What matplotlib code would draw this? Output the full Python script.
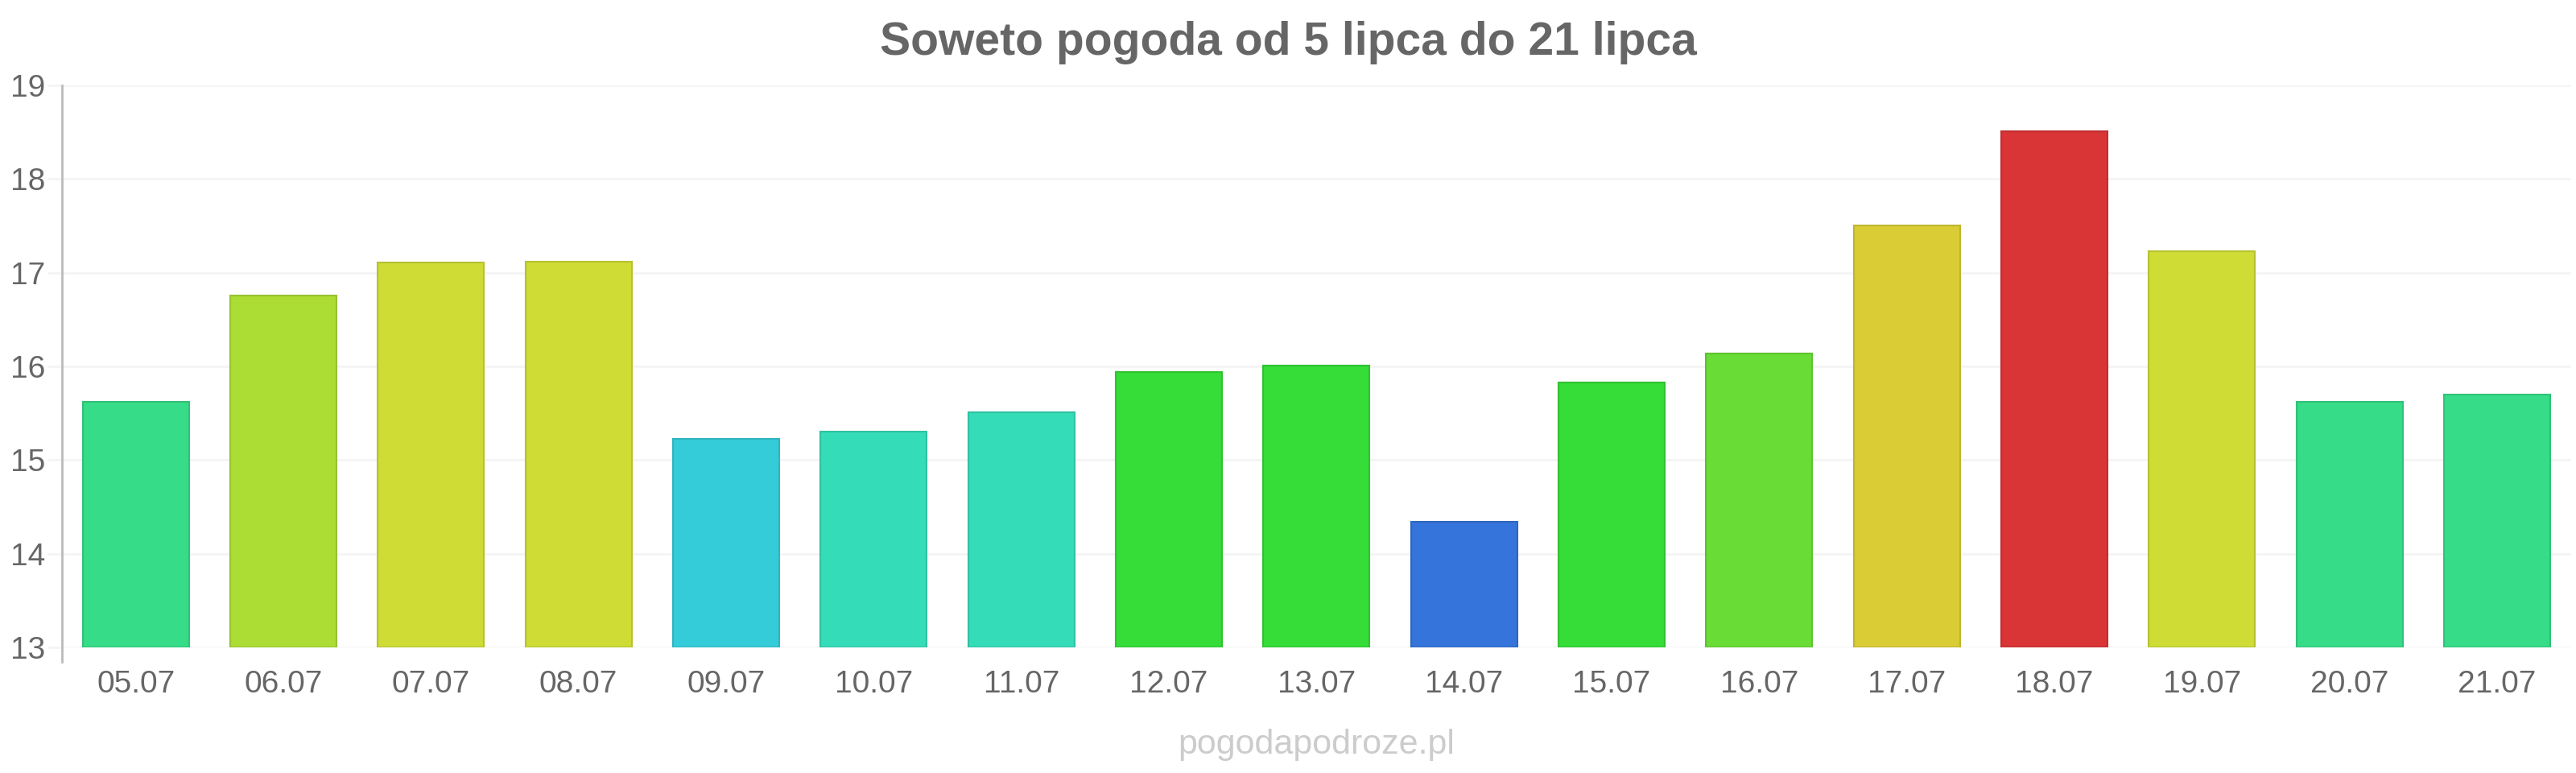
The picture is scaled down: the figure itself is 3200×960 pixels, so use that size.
import matplotlib.pyplot as plt
import matplotlib.colors as mcolors
import numpy as np

# -------------------------
# data
# -------------------------

days = ["05.07", "06.07", "07.07", "08.07", "09.07", "10.07", "11.07", "12.07", "13.07",
        "14.07", "15.07", "16.07", "17.07", "18.07", "19.07", "20.07", "21.07"]
temps = [15.62, 16.76, 17.11, 17.12, 15.23, 15.30, 15.51, 15.94, 16.01,
         14.34, 15.83, 16.14, 17.50, 18.51, 17.23, 15.62, 15.70]

bar_colors = ["#36dc88", "#acdd34", "#cfdc35", "#cfdc35", "#35ccda", "#35dcb8", "#35dcb8",
              "#36dc38", "#36dc38", "#3574da", "#36dc38", "#6adc36", "#dacc35", "#da3536",
              "#cfdc36", "#36dc88", "#36dc88"]

title = "Soweto pogoda od 5 lipca do 21 lipca"
watermark = "pogodapodroze.pl"

# -------------------------
# plot
# -------------------------

plt.rcParams["font.family"] = ["Liberation Sans", "DejaVu Sans"]

fig = plt.figure(figsize=(32, 9.6), dpi=100)
ax = fig.add_axes([0.02406, 0.1625, 0.974, 0.7271])

x = np.arange(len(days))
edges = [tuple(np.array(mcolors.to_rgb(c)) * 0.88) for c in bar_colors]
ax.bar(x, np.array(temps) - 13, bottom=13, width=0.72, color=bar_colors,
       edgecolor=edges, linewidth=1.5, zorder=3)

ax.set_xlim(-0.5, len(days) - 0.5)
ax.set_ylim(13, 19)
ax.set_yticks(range(13, 20))
ax.set_xticks(x)
ax.set_xticklabels(days)

ax.grid(axis="y", color="#f4f4f4", linewidth=2, zorder=0)
ax.tick_params(axis="y", length=13, width=2, color="#f4f4f4", pad=2,
               labelsize=28, labelcolor="#666666")
ax.tick_params(axis="x", length=0, pad=20, labelsize=28, labelcolor="#666666")

for s in ["top", "right", "bottom", "left"]:
    ax.spines[s].set_visible(False)
ax.plot([0, 0], [-0.026, 1], transform=ax.transAxes, color="#bbbbbb",
        linewidth=2, clip_on=False, zorder=4)

fig.text(0.5, 1 - 53 / 960, title, ha="center", va="center",
         fontsize=41, fontweight="bold", color="#666666")
fig.text(1635 / 3200, 1 - 925 / 960, watermark, ha="center", va="center",
         fontsize=31, color="#cccccc")

fig.savefig("out.png", dpi=100, facecolor="white")
